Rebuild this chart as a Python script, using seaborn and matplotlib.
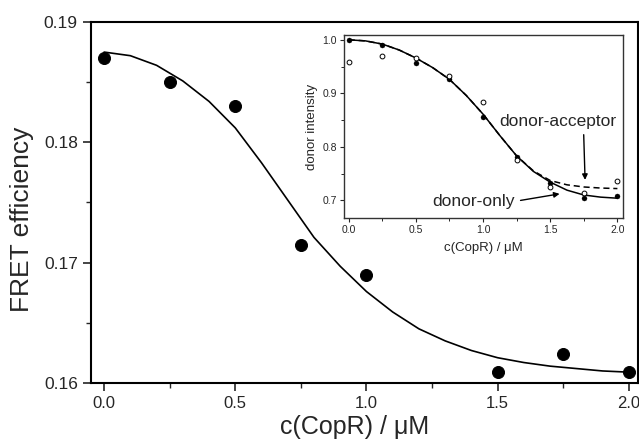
import matplotlib
matplotlib.use("Agg")
import matplotlib.pyplot as plt
from matplotlib.ticker import MultipleLocator, FormatStrFormatter
import pandas as pd
import seaborn as sns

# main panel: FRET efficiency vs CopR
conc = [0.0, 0.25, 0.5, 0.75, 1.0, 1.5, 1.75, 2.0]
fret = [0.187, 0.185, 0.183, 0.1715, 0.169, 0.1609, 0.1624, 0.1609]

fit_x = [0.0, 0.1, 0.2, 0.3, 0.4, 0.5, 0.6, 0.7, 0.8, 0.9, 1.0,
         1.1, 1.2, 1.3, 1.4, 1.5, 1.6, 1.7, 1.8, 1.9, 2.0]
fit_y = [0.1875, 0.1872, 0.1864, 0.1851, 0.1834, 0.1812, 0.1783, 0.1752,
         0.1721, 0.1697, 0.1676, 0.1659, 0.1645, 0.1635, 0.1627, 0.1621,
         0.1617, 0.1614, 0.1612, 0.1610, 0.1609]

# inset: donor intensity
in_x = [0.0, 0.25, 0.5, 0.75, 1.0, 1.25, 1.5, 1.75, 2.0]
donor_only = [1.0, 0.991, 0.957, 0.926, 0.855, 0.781, 0.733, 0.705, 0.708]
donor_acc = [0.958, 0.969, 0.966, 0.933, 0.883, 0.776, 0.725, 0.714, 0.736]

curve_x = [0.0, 0.125, 0.25, 0.375, 0.5, 0.625, 0.75, 0.875, 1.0,
           1.125, 1.25, 1.375, 1.5, 1.625, 1.75, 1.875, 2.0]
curve_only = [1.0, 0.998, 0.992, 0.981, 0.966, 0.948, 0.926, 0.896, 0.861,
              0.821, 0.783, 0.754, 0.734, 0.719, 0.710, 0.706, 0.704]
curve_acc = [1.0, 0.998, 0.992, 0.981, 0.966, 0.948, 0.926, 0.896, 0.861,
             0.821, 0.783, 0.755, 0.737, 0.729, 0.725, 0.723, 0.722]

sns.set_style("ticks")
plt.rcParams["font.family"] = ["Liberation Sans", "DejaVu Sans"]

fig = plt.figure(figsize=(6.39, 4.47), dpi=100)
ax = fig.add_axes([0.1424, 0.1432, 0.856, 0.8076])

df = pd.DataFrame({"x": conc, "y": fret})
dfit = pd.DataFrame({"x": fit_x, "y": fit_y})
sns.lineplot(data=dfit, x="x", y="y", color="black", lw=1.2, ax=ax)
sns.scatterplot(data=df, x="x", y="y", color="black", s=75, edgecolor="black", ax=ax, zorder=3)

ax.set_xlim(-0.05, 2.035)
ax.set_ylim(0.16, 0.19)
ax.xaxis.set_major_locator(MultipleLocator(0.5))
ax.xaxis.set_minor_locator(MultipleLocator(0.25))
ax.yaxis.set_major_locator(MultipleLocator(0.01))
ax.yaxis.set_minor_locator(MultipleLocator(0.005))
ax.xaxis.set_major_formatter(FormatStrFormatter("%.1f"))
ax.yaxis.set_major_formatter(FormatStrFormatter("%.2f"))
ax.tick_params(which="major", direction="out", length=6, width=1.2, labelsize=12.5)
ax.tick_params(axis="x", labelsize=12)
ax.tick_params(which="minor", direction="out", length=3.5, width=1)
for s in ax.spines.values():
    s.set_linewidth(1.5)
    s.set_color("black")
ax.set_xlabel("c(CopR) / \u03bcM", fontsize=18)
ax.set_ylabel("FRET efficiency", fontsize=19)
ax.xaxis.set_label_coords(0.481, -0.088)
ax.yaxis.set_label_coords(-0.104, 0.454)

# inset
axi = fig.add_axes([0.538, 0.5123, 0.4366, 0.4094])
dcur = pd.DataFrame({"x": curve_x, "only": curve_only, "acc": curve_acc})
sns.lineplot(data=dcur, x="x", y="acc", color="black", lw=1.1, linestyle=(0, (4, 2.5)), ax=axi)
sns.lineplot(data=dcur, x="x", y="only", color="black", lw=1.1, ax=axi)
din = pd.DataFrame({"x": in_x, "only": donor_only, "acc": donor_acc})
sns.scatterplot(data=din, x="x", y="only", color="black", s=13, edgecolor="black", ax=axi, zorder=3)
sns.scatterplot(data=din, x="x", y="acc", facecolor="white", s=12, edgecolor="black",
                linewidth=0.7, ax=axi, zorder=3)

axi.set_xlim(-0.037, 2.04)
axi.set_ylim(0.667, 1.009)
axi.xaxis.set_major_locator(MultipleLocator(0.5))
axi.xaxis.set_minor_locator(MultipleLocator(0.25))
axi.yaxis.set_major_locator(MultipleLocator(0.1))
axi.yaxis.set_minor_locator(MultipleLocator(0.05))
axi.xaxis.set_major_formatter(FormatStrFormatter("%.1f"))
axi.yaxis.set_major_formatter(FormatStrFormatter("%.1f"))
axi.tick_params(which="major", direction="out", length=3, width=0.8, labelsize=7.5, pad=2)
axi.tick_params(which="minor", direction="out", length=2, width=0.7)
for s in axi.spines.values():
    s.set_linewidth(1)
    s.set_color("#333333")
axi.set_xlabel("c(CopR) / \u03bcM", fontsize=9.5, labelpad=5)
axi.set_ylabel("donor intensity", fontsize=9.5, labelpad=3)

axi.annotate("donor-acceptor", xy=(1.76, 0.733), xytext=(1.12, 0.848),
             fontsize=12.5, va="center", ha="left",
             arrowprops=dict(arrowstyle="-|>", color="black", lw=1,
                             mutation_scale=8, relpos=(0.72, 0.0)))
axi.annotate("donor-only", xy=(1.59, 0.713), xytext=(0.62, 0.698),
             fontsize=12.5, va="center", ha="left",
             arrowprops=dict(arrowstyle="-|>", color="black", lw=1,
                             mutation_scale=8, relpos=(1.0, 0.5)))

fig.savefig("out.png", dpi=100)
